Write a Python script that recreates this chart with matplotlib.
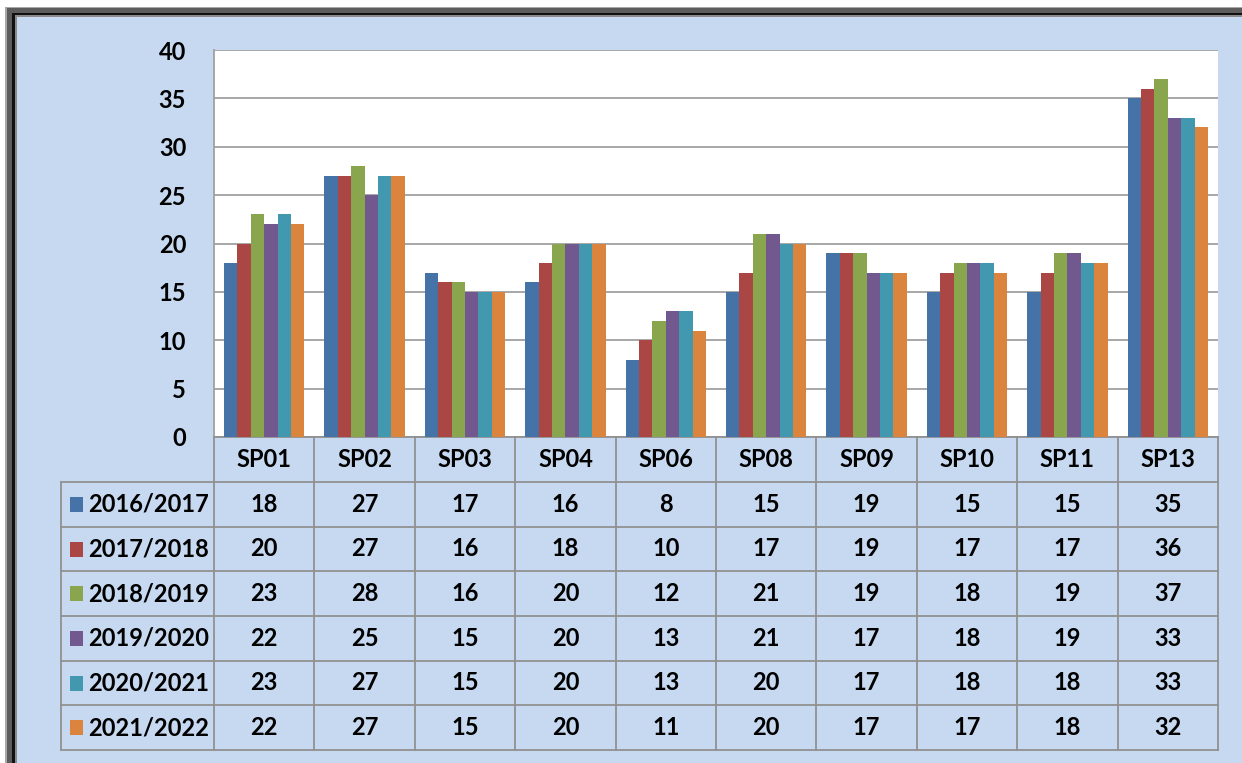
import matplotlib
matplotlib.use("Agg")
import matplotlib.pyplot as plt
from matplotlib.patches import Rectangle
import numpy as np

categories = ["SP01", "SP02", "SP03", "SP04", "SP06", "SP08", "SP09", "SP10", "SP11", "SP13"]
series_names = ["2016/2017", "2017/2018", "2018/2019", "2019/2020", "2020/2021", "2021/2022"]
s2016 = [18, 27, 17, 16, 8, 15, 19, 15, 15, 35]
s2017 = [20, 27, 16, 18, 10, 17, 19, 17, 17, 36]
s2018 = [23, 28, 16, 20, 12, 21, 19, 18, 19, 37]
s2019 = [22, 25, 15, 20, 13, 21, 17, 18, 19, 33]
s2020 = [23, 27, 15, 20, 13, 20, 17, 18, 18, 33]
s2021 = [22, 27, 15, 20, 11, 20, 17, 17, 18, 32]
series = [s2016, s2017, s2018, s2019, s2020, s2021]
colors = ["#4572a7", "#aa4643", "#89a54e", "#71588f", "#4198af", "#db843d"]
yticks = [0, 5, 10, 15, 20, 25, 30, 35, 40]

W, H = 1242, 763
BG = "#c6d9f0"
FONT = "Lato"
FS = 17

fig = plt.figure(figsize=(W / 100, H / 100), dpi=100, facecolor="white")

# background frame (pixel coordinates)
bgax = fig.add_axes([0, 0, 1, 1])
bgax.set_xlim(0, W)
bgax.set_ylim(H, 0)
bgax.axis("off")
bgax.add_patch(Rectangle((5, 7), W, H, facecolor="#a8a8a8", edgecolor="none"))
bgax.add_patch(Rectangle((7, 8), W, H, facecolor="#5c5c5c", edgecolor="none"))
bgax.add_patch(Rectangle((12, 13), W, H, facecolor="#111111", edgecolor="none"))
bgax.add_patch(Rectangle((15, 15), W, H, facecolor="#8a8a8a", edgecolor="none"))
bgax.add_patch(Rectangle((17, 17), W, H, facecolor=BG, edgecolor="none"))

# plot area
L, R, T, B = 214, 1218, 50, 437
ax = fig.add_axes([L / W, 1 - B / H, (R - L) / W, (B - T) / H])
ax.set_facecolor("white")
n = len(categories)
k = len(series)
x = np.arange(n)
group = 0.8
bw = group / k
for i, (vals, c) in enumerate(zip(series, colors)):
    ax.bar(x - group / 2 + bw * (i + 0.5), vals, width=bw, color=c,
           edgecolor="none", zorder=3)
ax.set_xlim(-0.5, n - 0.5)
ax.set_ylim(0, 40)
ax.set_yticks(yticks)
ax.set_yticklabels([str(t) for t in yticks], fontsize=FS, fontfamily=FONT,
                   fontweight="bold")
ax.tick_params(axis="y", length=0, pad=20)
ax.set_xticks([])
ax.grid(axis="y", color="#a0a0a0", linewidth=1.3, zorder=0)
for sp in ["top", "right"]:
    ax.spines[sp].set_visible(False)
ax.spines["left"].set_color("#a0a0a0")
ax.spines["left"].set_linewidth(1.3)
ax.spines["bottom"].set_color("#909090")
ax.spines["bottom"].set_linewidth(1.3)

# data table (axes coordinates)
ph = B - T
pw = R - L
def ay(py):
    return (B - py) / ph
def axx(px):
    return (px - L) / pw

hdr_bot = 482
row_h = (750 - hdr_bot) / k
label_left = 61
gc = "#909090"
lw = 1.3
tkw = dict(transform=ax.transAxes, clip_on=False)

# horizontal lines
ax.plot([axx(label_left), 1], [ay(hdr_bot), ay(hdr_bot)], color=gc, lw=lw, **tkw)
for r in range(1, k + 1):
    yy = ay(hdr_bot + r * row_h)
    ax.plot([axx(label_left), 1], [yy, yy], color=gc, lw=lw, **tkw)
# vertical lines
for j in range(n + 1):
    xx = j / n
    ax.plot([xx, xx], [0, ay(hdr_bot + k * row_h)], color=gc, lw=lw, **tkw)
ax.plot([axx(label_left)] * 2, [ay(hdr_bot), ay(hdr_bot + k * row_h)],
        color=gc, lw=lw, **tkw)

# header texts
for j, cat in enumerate(categories):
    ax.text((j + 0.5) / n, ay((B + hdr_bot) / 2), cat, ha="center", va="center",
            fontsize=FS, fontfamily=FONT, fontweight="bold", **tkw)
# rows
for r, (name, vals, c) in enumerate(zip(series_names, series, colors)):
    yc = ay(hdr_bot + (r + 0.5) * row_h)
    ax.add_patch(Rectangle((axx(70), yc - 7.5 / ph), 13 / pw, 15 / ph,
                           facecolor=c, edgecolor="none", **tkw))
    ax.text(axx(88), yc, name, ha="left", va="center", fontsize=FS,
            fontfamily=FONT, fontweight="bold", **tkw)
    for j, v in enumerate(vals):
        ax.text((j + 0.5) / n, yc, str(v), ha="center", va="center",
                fontsize=FS, fontfamily=FONT, fontweight="bold", **tkw)

fig.savefig("out.png", dpi=100, facecolor=fig.get_facecolor())
